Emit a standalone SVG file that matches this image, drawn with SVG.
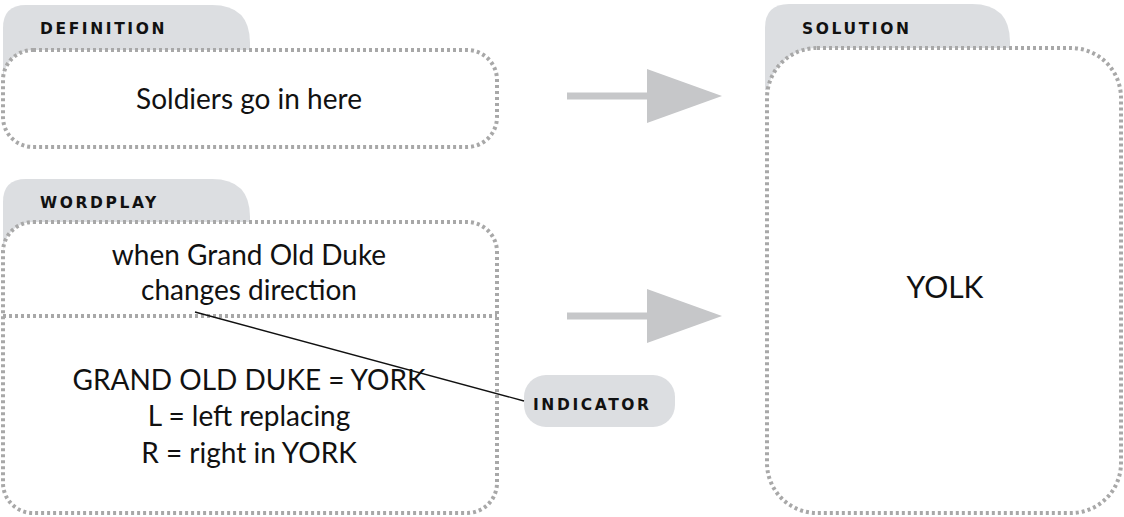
<svg xmlns="http://www.w3.org/2000/svg" width="1124" height="517" viewBox="0 0 1124 517">
<style>
.tab{fill:#dcdee1}
.box{fill:#fff;stroke:#a8a8a8;stroke-width:4;stroke-dasharray:3 3}
.div{fill:none;stroke:#a8a8a8;stroke-width:4;stroke-dasharray:3 3}
.lbl{font-family:"DejaVu Sans",sans-serif;font-weight:bold;font-size:15.5px;letter-spacing:2.6px;fill:#111}
.txt{font-family:Lato,"Open Sans",sans-serif;font-size:28px;fill:#111;text-anchor:middle}
.arr{fill:#c6c7c9}
</style>
<g id="definition">
<path class="tab" d="M3,80 V28 Q3,5 26,5 H212 Q250,5 250,43 V80 Z"/>
<rect class="box" x="3" y="50" width="494" height="97" rx="30" ry="30"/>
<text class="lbl" x="40" y="34">DEFINITION</text>
<text class="txt" x="249" y="109">Soldiers go in here</text>
</g>
<g id="wordplay">
<path class="tab" d="M3,255 V202 Q3,179 26,179 H212 Q250,179 250,217 V255 Z"/>
<rect class="box" x="3" y="222" width="494" height="291" rx="30" ry="30"/>
<path class="div" d="M3,316 H497"/>
<text class="lbl" x="40" y="208">WORDPLAY</text>
<text class="txt" x="249" y="265">when Grand Old Duke</text>
<text class="txt" x="249" y="300">changes direction</text>
<text class="txt" x="249" y="390">GRAND OLD DUKE = YORK</text>
<text class="txt" x="249" y="426">L = left replacing</text>
<text class="txt" x="249" y="463">R = right in YORK</text>
</g>
<g id="solution">
<path class="tab" d="M765,90 V28 Q765,4 789,4 H972 Q1010,4 1010,42 V90 Z"/>
<rect class="box" x="767" y="48" width="354" height="465" rx="50" ry="50"/>
<text class="lbl" x="802" y="34">SOLUTION</text>
<text class="txt" x="945" y="298" style="font-size:30px">YOLK</text>
</g>
<g id="indicator">
<rect x="524" y="375" width="151" height="52" rx="22" ry="22" fill="#dcdee1"/>
<text class="lbl" x="533" y="410">INDICATOR</text>
</g>
<g id="connectors">
<path d="M567,96 H650" stroke="#c6c7c9" stroke-width="7" fill="none"/>
<polygon class="arr" points="647,69 722,96 647,123"/>
<path d="M567,316 H650" stroke="#c6c7c9" stroke-width="7" fill="none"/>
<polygon class="arr" points="647,289 722,316 647,343"/>
<line x1="195" y1="312" x2="524" y2="401" stroke="#111" stroke-width="1.3"/>
</g>
</svg>
